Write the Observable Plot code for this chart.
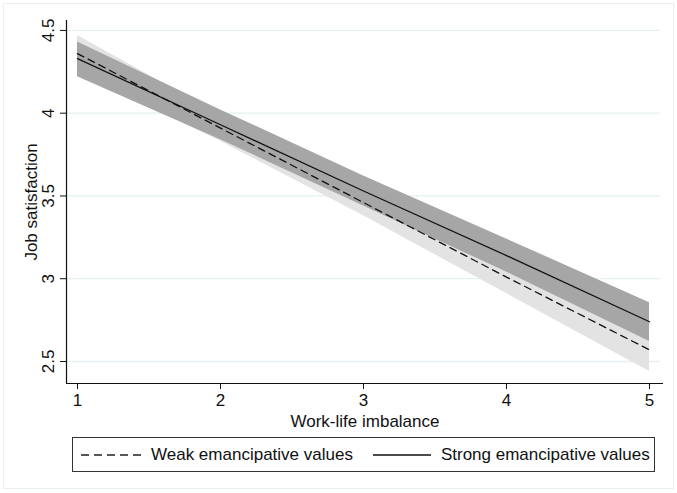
<!DOCTYPE html>
<html><head><meta charset="utf-8">
<script src="https://cdn.jsdelivr.net/npm/d3@7"></script>
<script src="https://cdn.jsdelivr.net/npm/@observablehq/plot@0.6"></script>
<style>
body{margin:0;background:#fff;font-family:"Liberation Sans",Arial,Helvetica,sans-serif;}
#wrap{position:relative;width:677px;height:493px;overflow:hidden;}
#frame{position:absolute;left:3px;top:3px;width:671px;height:486px;border:1.5px solid #e8f0f2;box-sizing:border-box;}
#chart{position:absolute;left:0;top:0;}
#legend{position:absolute;left:72px;top:437px;width:583px;height:35px;border:1px solid #333;box-sizing:border-box;display:flex;align-items:center;font-size:17px;color:#111;}
#legend .item{display:flex;align-items:center;}
#legend svg{display:block;}
</style></head><body>
<div id="wrap"><div id="frame"></div><div id="chart"></div>
<div id="legend">
  <div class="item" style="margin-left:7px"><svg width="62" height="10"><line x1="1" y1="5" x2="61" y2="5" stroke="#222" stroke-width="1.3" stroke-dasharray="8,5"/></svg><span style="margin-left:9px">Weak emancipative values</span></div>
  <div class="item" style="margin-left:20px"><svg width="58" height="10"><line x1="0" y1="5" x2="58" y2="5" stroke="#111" stroke-width="1.3"/></svg><span style="margin-left:10px">Strong emancipative values</span></div>
</div>
</div>
<script>
const xs = [1, 2, 3, 4, 5];
const weakFit = [4.36, 3.91, 3.46, 3.01, 2.57];
const weakLo  = [4.25, 3.83, 3.38, 2.91, 2.44];
const weakHi  = [4.47, 3.99, 3.54, 3.11, 2.70];
const strongFit = [4.33, 3.93, 3.53, 3.14, 2.74];
const strongLo  = [4.22, 3.84, 3.44, 3.04, 2.62];
const strongHi  = [4.43, 4.02, 3.62, 3.24, 2.855];
const yTicks = [2.5, 3, 3.5, 4, 4.5];
const xTicks = [1, 2, 3, 4, 5];

const weak = xs.map((x, i) => ({x, fit: weakFit[i], lo: weakLo[i], hi: weakHi[i]}));
const strong = xs.map((x, i) => ({x, fit: strongFit[i], lo: strongLo[i], hi: strongHi[i]}));

const plot = Plot.plot({
  width: 677, height: 430,
  marginLeft: 66, marginRight: 14, marginTop: 20, marginBottom: 47,
  style: {fontFamily: '"Liberation Sans", Arial, Helvetica, sans-serif', fontSize: "17px", color: "#111", background: "transparent"},
  x: {domain: [0.923, 5.098]},
  y: {domain: [2.367, 4.56]},
  marks: [
    Plot.ruleY(yTicks, {x1: 0.923, x2: 5.08, stroke: "#e6eff1", strokeWidth: 1.3}),
    Plot.areaY(weak, {x: "x", y1: "lo", y2: "hi", fill: "#e3e3e3"}),
    Plot.areaY(strong, {x: "x", y1: "lo", y2: "hi", fill: "#a6a6a6"}),
    Plot.line(weak, {x: "x", y: "fit", stroke: "#111", strokeWidth: 1.3, strokeDasharray: "7,5"}),
    Plot.line(strong, {x: "x", y: "fit", stroke: "#111", strokeWidth: 1.3}),
    Plot.axisX({ticks: xTicks, tickSize: 6, tickPadding: 4, fontSize: 17, tickFormat: d => String(d), label: "Work-life imbalance", labelArrow: "none", labelAnchor: "center", labelOffset: 43}),
    Plot.axisY({ticks: yTicks, tickSize: 6, tickRotate: -90, tickPadding: 7, fontSize: 17, tickFormat: d => String(d), label: "Job satisfaction", labelArrow: "none", labelAnchor: "center", labelOffset: 42}),
    Plot.ruleX([0.923], {stroke: "#111", strokeWidth: 1.2}),
    Plot.ruleY([2.367], {stroke: "#111", strokeWidth: 1.2})
  ]
});
document.getElementById("chart").appendChild(plot);
</script>
</body></html>
